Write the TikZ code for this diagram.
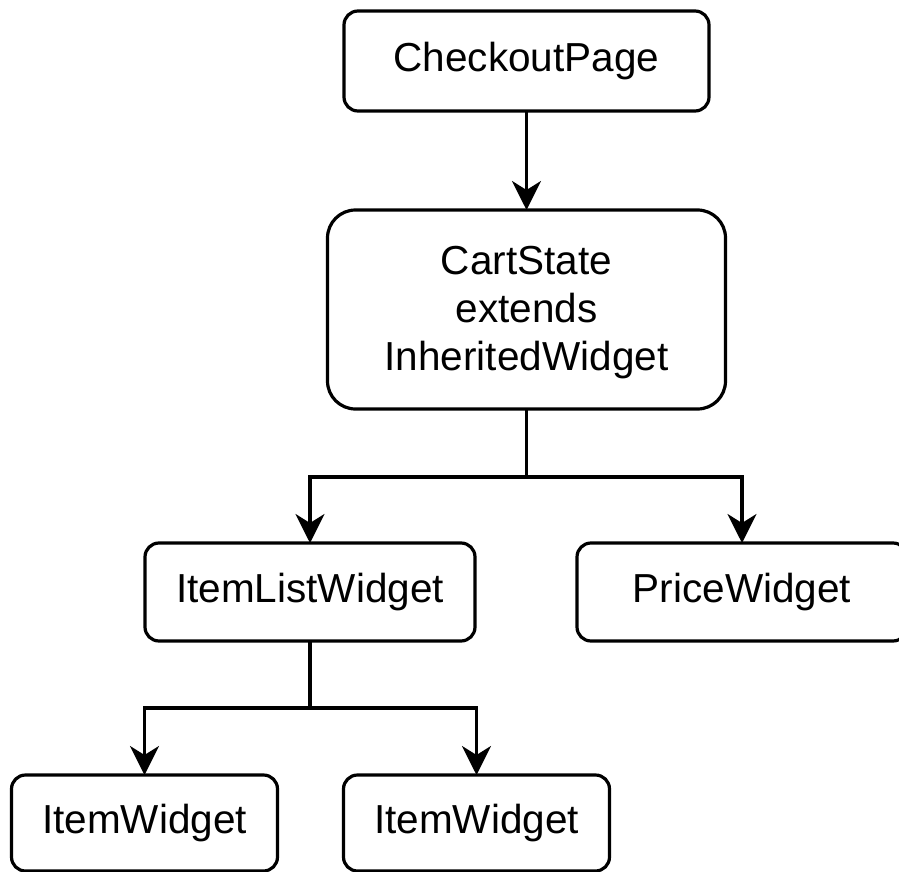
\documentclass[tikz,border=0pt]{standalone}
\usepackage{fontspec}
\setmainfont{Liberation Sans}
\usetikzlibrary{arrows.meta}

\begin{document}
\begin{tikzpicture}[x=1pt,y=-1pt,
  label text/.style={font=\fontsize{40.5}{48}\selectfont},
  box/.style={draw, line width=3.2pt, rounded corners=14pt, inner sep=0pt, outer sep=0pt,
    align=center, label text},
  bigbox/.style={box, rounded corners=28pt},
  link/.style={line width=3.2pt, -{Stealth[length=29pt,width=29pt,inset=9pt]}},
  plain/.style={line width=3.2pt}
]
\clip (0,0) rectangle (899,872);
\useasboundingbox (0,0) rectangle (899,872);

% component boxes
\node[box, minimum width=365pt, minimum height=100pt] (cp) at (526.5,61) {CheckoutPage};
\node[bigbox, minimum width=398pt, minimum height=199pt] (cs) at (526.5,309.5) {};
\node[align=center, label text, inner sep=0pt] (cstext) at (526.5,313)
  {CartState\\extends\\InheritedWidget};
\node[box, minimum width=330pt, minimum height=98pt] (il) at (310,592) {ItemListWidget};
\node[box, minimum width=330pt, minimum height=98pt] (pw) at (742,592) {PriceWidget};
\node[box, minimum width=266pt, minimum height=96pt] (iw1) at (144.5,823) {ItemWidget};
\node[box, minimum width=266pt, minimum height=96pt] (iw2) at (476.5,823) {ItemWidget};

% branch points
\coordinate (j1) at (526.5,477);
\coordinate (j2) at (310,708);

% connectors
\draw[link] (cp.south) -- (cs.north);
\draw[plain] (cs.south) -- (j1);
\draw[link] (j1) -| (il.north);
\draw[link] (j1) -| (pw.north);
\draw[plain] (il.south) -- (j2);
\draw[link] (j2) -| (iw1.north);
\draw[link] (j2) -| (iw2.north);
\end{tikzpicture}
\end{document}
